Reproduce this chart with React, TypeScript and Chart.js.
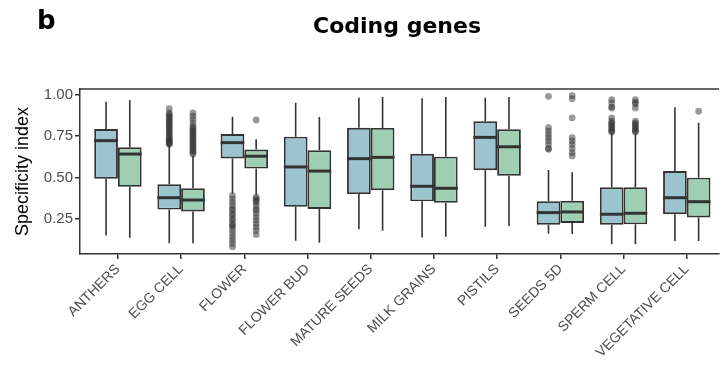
import React, { useEffect, useRef } from "react";
import { Chart, registerables } from "chart.js";

Chart.register(...registerables);

const categories = [
  "ANTHERS",
  "EGG CELL",
  "FLOWER",
  "FLOWER BUD",
  "MATURE SEEDS",
  "MILK GRAINS",
  "PISTILS",
  "SEEDS 5D",
  "SPERM CELL",
  "VEGETATIVE CELL",
];
const yTicks = [0.25, 0.5, 0.75, 1.0];

// Series 1 (blue)
const blueLow = [0.149, 0.101, 0.403, 0.117, 0.186, 0.137, 0.201, 0.159, 0.095, 0.115];
const blueQ1 = [0.492, 0.305, 0.614, 0.322, 0.399, 0.355, 0.543, 0.213, 0.214, 0.277];
const blueMedian = [0.722, 0.377, 0.71, 0.563, 0.613, 0.446, 0.742, 0.287, 0.277, 0.377];
const blueQ3 = [0.792, 0.458, 0.762, 0.746, 0.8, 0.643, 0.839, 0.356, 0.44, 0.538];
const blueHigh = [0.958, 0.696, 0.867, 0.952, 0.982, 0.978, 0.982, 0.545, 0.77, 0.924];
const blueOutliers: number[][] = [
  [],
  [0.7, 0.705, 0.71, 0.72, 0.725, 0.73, 0.74, 0.75, 0.76, 0.77, 0.78, 0.79, 0.8, 0.81, 0.82, 0.83, 0.84, 0.85, 0.86, 0.87, 0.88, 0.89, 0.915],
  [0.39, 0.37, 0.35, 0.33, 0.31, 0.3, 0.28, 0.27, 0.25, 0.24, 0.22, 0.21, 0.2, 0.18, 0.16, 0.14, 0.12, 0.1, 0.08],
  [],
  [],
  [],
  [],
  [0.99, 0.8, 0.78, 0.76, 0.74, 0.72, 0.7, 0.675, 0.67],
  [0.97, 0.95, 0.925, 0.92, 0.86, 0.84, 0.83, 0.82, 0.81, 0.8, 0.79, 0.78, 0.775],
  [],
];

// Series 2 (green)
const greenLow = [0.135, 0.101, 0.393, 0.105, 0.177, 0.141, 0.206, 0.157, 0.095, 0.115];
const greenQ1 = [0.443, 0.294, 0.553, 0.309, 0.422, 0.347, 0.51, 0.224, 0.216, 0.258];
const greenMedian = [0.641, 0.363, 0.628, 0.538, 0.621, 0.434, 0.685, 0.291, 0.283, 0.353];
const greenQ3 = [0.682, 0.434, 0.668, 0.664, 0.799, 0.625, 0.791, 0.358, 0.44, 0.498];
const greenHigh = [0.968, 0.63, 0.73, 0.865, 0.986, 0.986, 0.986, 0.531, 0.766, 0.831];
const greenOutliers: number[][] = [
  [],
  [0.64, 0.65, 0.66, 0.67, 0.68, 0.69, 0.7, 0.71, 0.72, 0.73, 0.74, 0.75, 0.76, 0.77, 0.78, 0.79, 0.8, 0.81, 0.83, 0.85, 0.87, 0.89],
  [0.847, 0.38, 0.37, 0.36, 0.35, 0.33, 0.31, 0.3, 0.28, 0.26, 0.24, 0.22, 0.2, 0.18, 0.155],
  [],
  [],
  [],
  [],
  [0.995, 0.975, 0.86, 0.74, 0.72, 0.7, 0.675, 0.65, 0.63],
  [0.97, 0.955, 0.945, 0.92, 0.84, 0.83, 0.82, 0.81, 0.8, 0.79, 0.78, 0.775],
  [0.9],
];

const BLUE = "#9BC4CE";
const GREEN = "#9FCFB3";
const DARK = "#333333";
const DODGE = 0.1875;

const series = [
  { low: blueLow, q1: blueQ1, med: blueMedian, q3: blueQ3, high: blueHigh },
  { low: greenLow, q1: greenQ1, med: greenMedian, q3: greenQ3, high: greenHigh },
];

const boxParts = {
  id: "boxParts",
  beforeDatasetsDraw(chart: any) {
    const ctx = chart.ctx;
    const y = chart.scales.y;
    ctx.save();
    ctx.strokeStyle = DARK;
    ctx.lineWidth = 1.6;
    series.forEach((s, di) => {
      const meta = chart.getDatasetMeta(di);
      meta.data.forEach((bar: any, i: number) => {
        const x = bar.x;
        ctx.beginPath();
        ctx.moveTo(x, y.getPixelForValue(s.high[i]));
        ctx.lineTo(x, y.getPixelForValue(s.q3[i]));
        ctx.moveTo(x, y.getPixelForValue(s.q1[i]));
        ctx.lineTo(x, y.getPixelForValue(s.low[i]));
        ctx.stroke();
      });
    });
    ctx.restore();
  },
  afterDatasetsDraw(chart: any) {
    const ctx = chart.ctx;
    const y = chart.scales.y;
    ctx.save();
    ctx.strokeStyle = DARK;
    ctx.lineWidth = 3;
    series.forEach((s, di) => {
      const meta = chart.getDatasetMeta(di);
      meta.data.forEach((bar: any, i: number) => {
        const py = y.getPixelForValue(s.med[i]);
        ctx.beginPath();
        ctx.moveTo(bar.x - bar.width / 2, py);
        ctx.lineTo(bar.x + bar.width / 2, py);
        ctx.stroke();
      });
    });
    const a = chart.chartArea;
    ctx.lineWidth = 1.5;
    ctx.beginPath();
    ctx.moveTo(a.left, a.top);
    ctx.lineTo(a.right, a.top);
    ctx.stroke();
    ctx.restore();
  },
};

export default function App() {
  const ref = useRef<HTMLCanvasElement>(null);
  useEffect(() => {
    if (!ref.current) return;
    const outlierData = (list: number[][], sign: number) =>
      list.flatMap((vals, i) => vals.map((v) => ({ x: i + 1 + sign * DODGE, y: v })));
    const chart = new Chart(ref.current, {
      type: "bar",
      data: {
        datasets: [
          {
            type: "bar",
            label: "blue",
            data: categories.map((_, i) => ({ x: i + 1, y: [blueQ1[i], blueQ3[i]] })) as any,
            backgroundColor: BLUE,
            borderColor: DARK,
            borderWidth: 1.9,
            borderSkipped: false,
            categoryPercentage: 0.75,
            barPercentage: 1,
            order: 2,
          },
          {
            type: "bar",
            label: "green",
            data: categories.map((_, i) => ({ x: i + 1, y: [greenQ1[i], greenQ3[i]] })) as any,
            backgroundColor: GREEN,
            borderColor: DARK,
            borderWidth: 1.9,
            borderSkipped: false,
            categoryPercentage: 0.75,
            barPercentage: 1,
            order: 2,
          },
          {
            type: "scatter",
            label: "blue outliers",
            data: outlierData(blueOutliers, -1) as any,
            backgroundColor: "rgba(51,51,51,0.5)",
            borderWidth: 0,
            pointRadius: 3.4,
            order: 1,
          },
          {
            type: "scatter",
            label: "green outliers",
            data: outlierData(greenOutliers, 1) as any,
            backgroundColor: "rgba(51,51,51,0.5)",
            borderWidth: 0,
            pointRadius: 3.4,
            order: 1,
          },
        ],
      },
      options: {
        animation: false,
        responsive: false,
        events: [],
        layout: { padding: { top: 89, left: 0, right: 0, bottom: 0 } },
        plugins: { legend: { display: false }, tooltip: { enabled: false }, title: { display: false } },
        scales: {
          x: {
            type: "linear",
            min: 0.4,
            max: 10.51,
            offset: false,
            afterBuildTicks: (scale: any) => {
              scale.ticks = categories.map((_, i) => ({ value: i + 1 }));
            },
            afterFit: (scale: any) => {
              scale.height = 115;
            },
            grid: {
              display: true,
              drawOnChartArea: false,
              drawTicks: true,
              tickLength: 5,
              color: DARK,
              lineWidth: 1.5,
              offset: false,
            },
            border: { display: true, color: DARK, width: 1.5 },
            ticks: {
              autoSkip: false,
              maxRotation: 45,
              minRotation: 45,
              padding: 2,
              color: "#4D4D4D",
              font: { family: "'Liberation Sans', Arial, sans-serif", size: 14 },
              callback: (v: any) => categories[Math.round(Number(v)) - 1] ?? "",
            },
          },
          y: {
            type: "linear",
            min: 0.0365,
            max: 1.0345,
            afterBuildTicks: (scale: any) => {
              scale.ticks = yTicks.map((v) => ({ value: v }));
            },
            afterFit: (scale: any) => {
              scale.width = 80;
            },
            grid: {
              display: true,
              drawOnChartArea: false,
              drawTicks: true,
              tickLength: 5,
              color: DARK,
              lineWidth: 1.5,
            },
            border: { display: true, color: DARK, width: 1.5 },
            ticks: {
              padding: 2,
              color: "#4D4D4D",
              font: { family: "'Liberation Sans', Arial, sans-serif", size: 15 },
              callback: (v: any) => Number(v).toFixed(2),
            },
            title: {
              display: true,
              text: "Specificity index",
              color: "#000000",
              padding: { top: 12, bottom: 0 },
              font: { family: "'Liberation Sans', Arial, sans-serif", size: 18 },
            },
          },
        },
      },
      plugins: [boxParts],
    });
    return () => chart.destroy();
  }, []);

  return (
    <div style={{ position: "absolute", left: 0, top: 0, width: 723, height: 369, background: "#fff" }}>
      <canvas ref={ref} width={723} height={369} style={{ display: "block", width: 723, height: 369 }} />
      <div
        style={{
          position: "absolute",
          left: 37,
          top: 28,
          transform: "translateY(-80%)",
          fontFamily: "'DejaVu Sans', sans-serif",
          fontWeight: "bold",
          fontSize: 26,
          lineHeight: 1,
          color: "#000",
        }}
      >
        b
      </div>
      <div
        style={{
          position: "absolute",
          left: 397,
          top: 33,
          transform: "translate(-50%, -80%)",
          fontFamily: "'DejaVu Sans', sans-serif",
          fontWeight: "bold",
          fontSize: 22,
          lineHeight: 1,
          color: "#000",
          whiteSpace: "nowrap",
        }}
      >
        Coding genes
      </div>
    </div>
  );
}
